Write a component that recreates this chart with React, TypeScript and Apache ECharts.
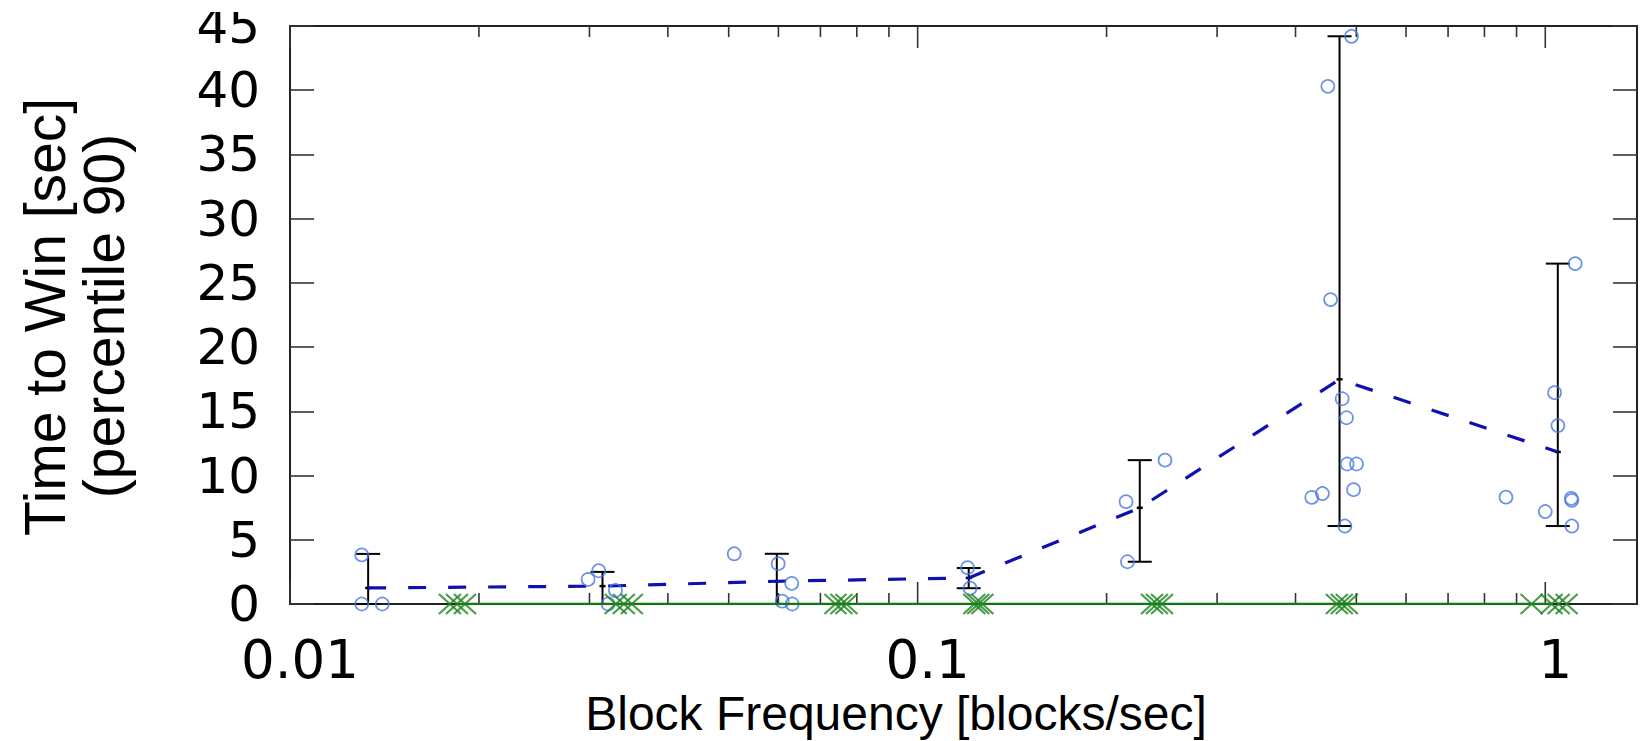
import React, { useEffect, useRef } from "react";
import * as echarts from "echarts";

// Individual runs (blue circles): block frequency [blocks/sec] and time to win [sec]
const runFreq = [
  0.01301, 0.01301, 0.01403,
  0.02985, 0.03104, 0.033, 0.03212,
  0.05102, 0.05995, 0.063, 0.06084, 0.06311,
  0.1201, 0.1212,
  0.2148, 0.2159, 0.2478,
  0.4912, 0.4504, 0.4549, 0.4746, 0.4823, 0.4834, 0.5003, 0.4949, 0.4246, 0.4415, 0.4794,
  1.116, 1.0347, 1.0474, 0.8657, 1.1, 1.1023, 1.0, 1.1023,
];
const runTime = [
  3.82, 0, 0,
  1.91, 2.59, 1.05, 0,
  3.91, 3.14, 1.6, 0.22, 0,
  2.83, 1.23,
  7.97, 3.29, 11.2,
  44.2, 40.3, 23.7, 15.98, 14.5, 10.9, 10.9, 8.9, 8.3, 8.6, 6.07,
  26.5, 16.45, 13.89, 8.32, 8.22, 8.07, 7.2, 6.07,
];

// Error bars (min / max) and mean per configuration
const ebFreq = [0.01332, 0.03147, 0.05965, 0.1206, 0.2259, 0.4701, 1.047];
const ebLow = [0, 0, 0, 1.23, 3.29, 6.07, 6.07];
const ebHigh = [3.9, 2.5, 3.91, 2.8, 11.2, 44.2, 26.5];
const ebMean = [1.25, 1.39, 1.77, 2.03, 7.49, 17.49, 11.84];

// Second configuration (green crosses), all zero
const greenFreq = [
  0.01798, 0.01845, 0.019,
  0.03304, 0.03403, 0.03504,
  0.07396, 0.07561, 0.077,
  0.1231, 0.1249, 0.1268,
  0.2363, 0.2406, 0.2451,
  0.4654, 0.474, 0.4828,
  0.9511, 1.0235, 1.0503, 1.0814,
];
const greenTime = [0, 0, 0, 0, 0, 0, 0, 0, 0, 0, 0, 0, 0, 0, 0, 0, 0, 0, 0, 0, 0, 0];
const greenMeanFreq = [0.01845, 0.03403, 0.07561, 0.1249, 0.2406, 0.474, 1.0266];
const greenMeanTime = [0, 0, 0, 0, 0, 0, 0];

// Axis ticks
const xMajorTicks = [0.01, 0.1, 1];
const xTickLabels = ["0.01", "0.1", "1"];
const xMinorTicks = [
  0.02, 0.03, 0.04, 0.05, 0.06, 0.07, 0.08, 0.09,
  0.2, 0.3, 0.4, 0.5, 0.6, 0.7, 0.8, 0.9,
];
const yMin = 0;
const yMax = 45;
const yStep = 5;

const xTitle = "Block Frequency [blocks/sec]";
const yTitle1 = "Time to Win [sec]";
const yTitle2 = "(percentile 90)";

export default function App() {
  const ref = useRef<HTMLDivElement>(null);

  useEffect(() => {
    const chart = echarts.init(ref.current!, null, { renderer: "svg" });

    const tickData = [
      ...xMajorTicks.map((v) => [v, 0, 1]),
      ...xMinorTicks.map((v) => [v, 0, 0]),
    ];
    const ebData = ebFreq.map((x, i) => [x, ebLow[i], ebHigh[i], ebMean[i]]);

    const yAxisBase = {
      type: "value",
      min: yMin,
      max: yMax,
      interval: yStep,
      axisLine: { show: false },
      splitLine: { show: false },
      axisTick: { inside: true, length: 24, lineStyle: { color: "#333", width: 1.6 } },
    };

    chart.setOption({
      animation: false,
      backgroundColor: "#fff",
      grid: {
        left: 290,
        top: 26,
        width: 1348,
        height: 578,
        show: true,
        borderColor: "#222",
        borderWidth: 2,
        backgroundColor: "rgba(0,0,0,0)",
      },
      xAxis: {
        type: "log",
        logBase: 10,
        min: 0.01,
        max: 1.4,
        splitNumber: 2,
        axisLine: { show: false },
        axisTick: { show: false },
        splitLine: { show: false },
        minorTick: { show: false },
        axisLabel: {
          fontSize: 53,
          fontFamily: "DejaVu Sans",
          color: "#000",
          margin: 29,
          padding: [0, 0, 0, 20],
          formatter: (v: number) => {
            const i = xMajorTicks.findIndex((t) => Math.abs(Math.log10(v) - Math.log10(t)) < 1e-6);
            return i >= 0 ? xTickLabels[i] : "";
          },
        },
      },
      yAxis: [
        {
          ...yAxisBase,
          position: "left",
          axisLabel: { fontSize: 50, fontFamily: "DejaVu Sans", color: "#000", margin: 30 },
        },
        {
          ...yAxisBase,
          position: "right",
          axisLabel: { show: false },
        },
      ],
      series: [
        {
          type: "custom",
          name: "xticks",
          z: 1,
          silent: true,
          clip: false,
          encode: { x: 0, y: 1 },
          data: tickData,
          renderItem: (params: any, api: any) => {
            const x = api.coord([api.value(0), 0])[0];
            const cs = params.coordSys;
            const len = api.value(2) ? 22 : 11;
            const style = { stroke: "#333", lineWidth: 1.6 };
            const bottom = cs.y + cs.height;
            return {
              type: "group",
              children: [
                { type: "line", shape: { x1: x, y1: bottom, x2: x, y2: bottom - len }, style },
                { type: "line", shape: { x1: x, y1: cs.y, x2: x, y2: cs.y + len }, style },
              ],
            };
          },
        },
        {
          type: "custom",
          name: "errorbars",
          z: 3,
          silent: true,
          clip: false,
          encode: { x: 0, y: [1, 2, 3] },
          data: ebData,
          renderItem: (params: any, api: any) => {
            const xv = api.value(0);
            const lo = api.coord([xv, api.value(1)]);
            const hi = api.coord([xv, api.value(2)]);
            const me = api.coord([xv, api.value(3)]);
            const hw = 12;
            const style = { stroke: "#000", lineWidth: 2 };
            return {
              type: "group",
              children: [
                { type: "line", shape: { x1: lo[0], y1: lo[1], x2: hi[0], y2: hi[1] }, style },
                { type: "line", shape: { x1: hi[0] - hw, y1: hi[1], x2: hi[0] + hw, y2: hi[1] }, style },
                { type: "line", shape: { x1: lo[0] - hw, y1: lo[1], x2: lo[0] + hw, y2: lo[1] }, style },
                { type: "line", shape: { x1: me[0] - 3, y1: me[1], x2: me[0] + 3, y2: me[1] }, style: { stroke: "#000", lineWidth: 2.5 } },
              ],
            };
          },
        },
        {
          type: "line",
          name: "mean",
          z: 4,
          silent: true,
          symbol: "none",
          data: ebFreq.map((x, i) => [x, ebMean[i]]),
          lineStyle: { color: "#1010b0", width: 3.2, type: [18, 22] },
        },
        {
          type: "scatter",
          name: "runs",
          z: 5,
          silent: true,
          symbol: "circle",
          symbolSize: 13,
          data: runFreq.map((x, i) => [x, runTime[i]]),
          itemStyle: { color: "rgba(0,0,0,0)", borderColor: "#4a78e0", borderWidth: 1.7 },
        },
        {
          type: "line",
          name: "green mean",
          z: 6,
          silent: true,
          symbol: "none",
          data: greenMeanFreq.map((x, i) => [x, greenMeanTime[i]]),
          lineStyle: { color: "#177517", width: 2.6 },
        },
        {
          type: "scatter",
          name: "green runs",
          z: 7,
          silent: true,
          symbol: "path://M0,0L20,18M20,0L0,18",
          symbolSize: [22, 20],
          data: greenFreq.map((x, i) => [x, greenTime[i]]),
          itemStyle: { color: "rgba(0,0,0,0)", borderColor: "#1f841f", borderWidth: 2 },
        },
      ],
      graphic: [
        {
          type: "rect",
          z: 100,
          silent: true,
          shape: { x: 150, y: 0, width: 136, height: 12 },
          style: { fill: "#fff" },
        },
        {
          type: "text",
          x: 896,
          y: 713,
          silent: true,
          style: {
            text: xTitle,
            fontSize: 48,
            fontFamily: "Liberation Sans",
            fill: "#000",
            align: "center",
            verticalAlign: "middle",
          },
        },
        {
          type: "text",
          x: 45,
          y: 317,
          rotation: Math.PI / 2,
          silent: true,
          style: {
            text: yTitle1,
            fontSize: 57,
            fontFamily: "Liberation Sans",
            fill: "#000",
            align: "center",
            verticalAlign: "middle",
          },
        },
        {
          type: "text",
          x: 104,
          y: 316,
          rotation: Math.PI / 2,
          silent: true,
          style: {
            text: yTitle2,
            fontSize: 57,
            fontFamily: "Liberation Sans",
            fill: "#000",
            align: "center",
            verticalAlign: "middle",
          },
        },
      ],
    });

    return () => chart.dispose();
  }, []);

  return (
    <div
      ref={ref}
      style={{ position: "fixed", left: 0, top: 0, width: 1640, height: 741, background: "#fff" }}
    />
  );
}
